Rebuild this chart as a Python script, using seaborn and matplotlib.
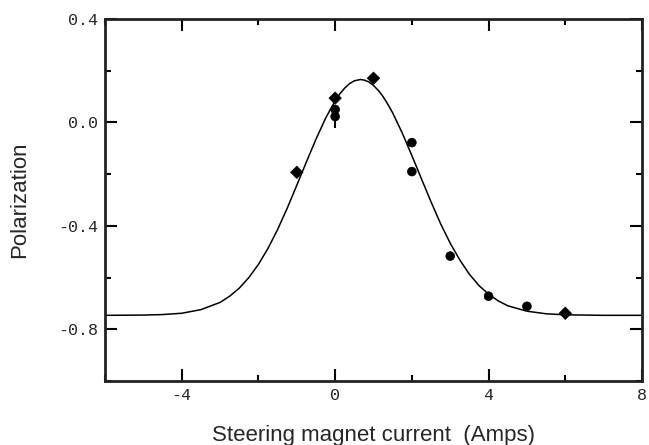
import numpy as np
import pandas as pd
import seaborn as sns
import matplotlib.pyplot as plt
from matplotlib.ticker import MultipleLocator, FormatStrFormatter

sns.set_style('ticks')
plt.rcParams['font.family'] = ['Liberation Sans', 'DejaVu Sans']
plt.rcParams['axes.unicode_minus'] = False

# measured points
current = [-1.0, 0.0, 0.0, 0.0, 1.0, 2.0, 2.0, 3.0, 4.0, 5.0, 6.0]
polarization = [-0.193, 0.094, 0.050, 0.023, 0.171, -0.078, -0.190,
                -0.517, -0.672, -0.711, -0.738]
pol_err = [0.02, 0.01, 0.01, 0.045, 0.01, 0.01, 0.015, 0.01, 0.01, 0.01, 0.01]
marker_kind = ['d', 'd', 'o', 'o', 'd', 'o', 'o', 'o', 'o', 'o', 'd']

# fitted curve
fit_x = [-6.0, -5.0, -4.5, -4.0, -3.5, -3.0, -2.75, -2.5, -2.25, -2.0,
         -1.75, -1.5, -1.25, -1.0, -0.75, -0.5, -0.25, 0.0, 0.125, 0.25,
         0.375, 0.5, 0.66, 0.75, 0.875, 1.0, 1.125, 1.25, 1.375, 1.5,
         1.75, 2.0, 2.25, 2.5, 2.75, 3.0, 3.25, 3.5, 3.75, 4.0, 4.25,
         4.5, 5.0, 5.5, 6.0, 7.0, 8.0]
fit_y = [-0.746, -0.745, -0.743, -0.738, -0.724, -0.696, -0.672, -0.641,
         -0.600, -0.549, -0.487, -0.414, -0.332, -0.243, -0.153, -0.065,
         0.016, 0.084, 0.111, 0.133, 0.150, 0.161, 0.166, 0.164, 0.157,
         0.143, 0.124, 0.100, 0.070, 0.037, -0.041, -0.128, -0.218,
         -0.307, -0.392, -0.467, -0.532, -0.587, -0.631, -0.664, -0.690,
         -0.709, -0.730, -0.740, -0.744, -0.746, -0.746]

points = pd.DataFrame({'current': current, 'polarization': polarization,
                       'kind': marker_kind})
curve = pd.DataFrame({'current': fit_x, 'polarization': fit_y})

fig = plt.figure(figsize=(6.49, 4.45), dpi=100)
ax = fig.add_axes([0.1618, 0.1438, 0.8274, 0.8135])

sns.lineplot(data=curve, x='current', y='polarization', ax=ax,
             color='black', linewidth=1.1, sort=False)
ax.errorbar(current, polarization, yerr=pol_err, fmt='none',
            ecolor='black', elinewidth=1.5, capsize=0)
sns.scatterplot(data=points, x='current', y='polarization', style='kind',
                markers={'d': 'D', 'o': 'o'}, ax=ax, color='black',
                s=40, edgecolor='black', linewidth=0.5, legend=False)

ax.set_xlim(-6, 8)
ax.set_ylim(-1.0, 0.4)
ax.xaxis.set_major_locator(MultipleLocator(4))
ax.xaxis.set_minor_locator(MultipleLocator(2))
ax.yaxis.set_major_locator(MultipleLocator(0.4))
ax.yaxis.set_minor_locator(MultipleLocator(0.2))
ax.yaxis.set_major_formatter(FormatStrFormatter('%.1f'))
ax.xaxis.set_major_formatter(FormatStrFormatter('%d'))

ax.tick_params(which='both', direction='in', top=True, right=True,
               color='black', width=1.5)
ax.tick_params(which='major', length=8.5, pad=5)
ax.tick_params(which='minor', length=4.3)
for lab in ax.get_xticklabels() + ax.get_yticklabels():
    lab.set_family(['Liberation Mono', 'DejaVu Sans Mono'])
    lab.set_fontsize(12)
for sp in ax.spines.values():
    sp.set_linewidth(2)
    sp.set_color('#222222')

ax.set_xlabel('Steering magnet current  (Amps)', fontsize=16, labelpad=16)
ax.set_ylabel('Polarization', fontsize=16, labelpad=20)

plt.savefig('out.png', dpi=100)
